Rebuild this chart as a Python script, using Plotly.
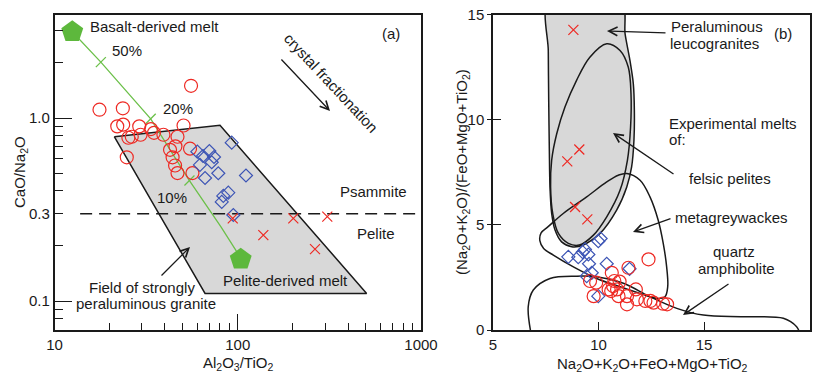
import plotly.graph_objects as go

W, H = 814, 374

# ---------------- Panel (a) data ----------------
a_circ_x = [55.6, 17.6, 23.6, 22.0, 23.7, 29.0, 25.3, 26.4, 29.5, 33.6, 34.9, 39.3, 50.6, 46.9, 45.7, 42.7, 54.9, 44.1, 45.5, 46.9, 24.8, 56.6]
a_circ_y = [1.50, 1.11, 1.13, 0.90, 0.92, 0.90, 0.78, 0.79, 0.81, 0.87, 0.83, 0.81, 0.91, 0.79, 0.70, 0.67, 0.68, 0.61, 0.55, 0.50, 0.61, 0.50]

a_diam_x = [92.7, 60.2, 70.0, 64.6, 72.1, 62.2, 78.3, 66.3, 110.9, 88.8, 83.4, 81.8, 94.6, 74.2]
a_diam_y = [0.733, 0.655, 0.660, 0.620, 0.573, 0.554, 0.499, 0.470, 0.485, 0.391, 0.375, 0.348, 0.295, 0.612]

a_cross_x = [93.9, 201, 308, 137.9, 264]
a_cross_y = [0.283, 0.283, 0.289, 0.229, 0.192]

mix_x = [12.5, 17.9, 33.5, 54.5, 81.0, 99.1, 103.8]
mix_y = [2.96, 2.02, 0.99, 0.455, 0.254, 0.185, 0.169]
mix_tick_x = [17.9, 33.5, 54.5]
mix_tick_y = [2.02, 0.99, 0.455]

end_x = [12.5, 103.8]
end_y = [2.96, 0.169]

field_a_x = [21.2, 80.0, 505, 66.3, 21.2]
field_a_y = [0.79, 0.912, 0.11, 0.11, 0.79]

split_x = [13.8, 1000]
split_y = [0.3, 0.3]

a_xticks = [10, 100, 1000]
a_xminor = [20, 30, 40, 50, 60, 70, 80, 90, 200, 300, 400, 500, 600, 700, 800, 900]
a_yticks = [0.1, 0.3, 1.0]
a_ytext = ["0.1", "0.3", "1.0"]
a_ylong = [0.1, 1.0]
a_yminor = [0.08, 0.09, 0.2, 0.4, 0.5, 0.6, 0.7, 0.8, 0.9, 2, 3]

# ---------------- Panel (b) data ----------------
b_cross_x = [8.81, 9.09, 8.52, 8.89, 9.47]
b_cross_y = [14.27, 8.58, 8.02, 5.85, 5.26]

b_diam_x = [8.57, 9.04, 9.36, 9.52, 9.55, 9.99, 10.1, 10.39, 9.44, 9.68, 9.99, 11.47, 9.25]
b_diam_y = [3.48, 3.46, 3.83, 3.59, 3.15, 4.22, 4.35, 3.15, 2.56, 2.72, 1.61, 2.91, 3.70]

b_circ_x = [12.37, 10.63, 11.42, 10.75, 10.69, 9.60, 9.89, 9.77, 10.48, 10.88, 10.95, 11.77, 11.35, 11.35, 11.82, 12.22, 12.46, 12.61, 13.06, 13.25, 10.60, 11.00]
b_circ_y = [3.36, 2.72, 2.96, 2.33, 2.09, 2.33, 2.25, 1.61, 1.93, 1.93, 1.61, 1.93, 1.61, 1.22, 1.46, 1.38, 1.38, 1.30, 1.25, 1.22, 1.85, 2.30]

leuco_x = [7.62, 11.10, 11.26, 11.49, 11.65, 11.70, 11.68, 11.57, 11.34, 10.86, 10.07, 9.28, 8.73, 8.25, 7.94, 7.78, 7.70, 7.67, 7.64, 7.62, 7.62]
leuco_y = [15.6, 15.6, 14.08, 12.82, 11.71, 10.44, 9.02, 7.75, 6.80, 5.70, 4.59, 4.04, 3.96, 4.19, 4.75, 5.54, 6.80, 8.54, 10.92, 13.29, 15.6]

felsic_x = [10.39, 11.02, 11.41, 11.54, 11.52, 11.37, 11.02, 10.39, 9.76, 9.09, 8.57, 8.10, 7.83, 7.73, 7.78, 8.02, 8.41, 8.96, 9.59, 10.39]
felsic_y = [13.61, 13.29, 12.50, 11.23, 9.65, 8.07, 6.64, 5.38, 4.51, 4.04, 4.12, 4.59, 5.54, 6.80, 8.07, 9.33, 10.60, 11.87, 12.97, 13.61]

greyw_x = [11.34, 11.97, 12.44, 12.83, 13.07, 13.23, 13.28, 13.15, 12.76, 11.97, 11.02, 9.91, 8.81, 7.86, 7.40, 7.22, 7.28, 7.60, 8.33, 9.44, 10.39, 10.94, 11.34]
greyw_y = [7.44, 7.12, 6.33, 5.22, 4.11, 3.00, 2.06, 1.58, 1.50, 1.74, 2.06, 2.45, 3.00, 3.56, 3.88, 4.25, 4.62, 4.90, 5.54, 6.33, 7.04, 7.36, 7.44]

amph_x = [6.79, 6.67, 6.91, 7.70, 8.97, 9.91, 11.18, 12.44, 13.71, 14.97, 16.86, 18.76, 19.39, 19.52]
amph_y = [-0.1, 1.11, 1.90, 2.45, 2.56, 2.53, 2.22, 1.58, 1.03, 0.71, 0.63, 0.56, 0.16, -0.1]

b_xticks = [5, 10, 15, 20]
b_yticks = [0, 5, 10, 15]
b_yinner = [5, 10]

# ---------------- styles ----------------
RED = "#ee2a24"
BLUE = "#3d55b5"
GREEN_L = "#6cc04a"
GREEN_P = "#5db83c"
GRAY = "#d8d8d8"
INK = "#1a1a1a"
FONT = "Liberation Sans, Arial, sans-serif"

fig = go.Figure()

def tr(**kw):
    kw.setdefault("showlegend", False)
    kw.setdefault("hoverinfo", "skip")
    fig.add_trace(go.Scatter(**kw))

# panel (a)
tr(x=field_a_x, y=field_a_y, mode="lines", fill="toself", fillcolor=GRAY,
   line=dict(color=INK, width=1.5), xaxis="x", yaxis="y")
tr(x=split_x, y=split_y, mode="lines", line=dict(color=INK, width=1.5, dash="12px,7px"), xaxis="x", yaxis="y")
tr(x=mix_x, y=mix_y, mode="lines", line=dict(color=GREEN_L, width=1.3), xaxis="x", yaxis="y")
tr(x=mix_tick_x, y=mix_tick_y, mode="markers",
   marker=dict(symbol="line-ne", size=10, line=dict(color=GREEN_L, width=1.3)), xaxis="x", yaxis="y")
tr(x=a_circ_x, y=a_circ_y, mode="markers",
   marker=dict(symbol="circle-open", size=13, color=RED, line=dict(width=1.2)), xaxis="x", yaxis="y")
tr(x=a_diam_x, y=a_diam_y, mode="markers",
   marker=dict(symbol="diamond-open", size=10, color=BLUE, line=dict(width=1.2)), xaxis="x", yaxis="y")
tr(x=a_cross_x, y=a_cross_y, mode="markers",
   marker=dict(symbol="x-thin-open", size=10, color=RED, line=dict(width=1.2, color=RED)), xaxis="x", yaxis="y")
tr(x=end_x, y=end_y, mode="markers",
   marker=dict(symbol="pentagon", size=23, color=GREEN_P, line=dict(width=0)), xaxis="x", yaxis="y")
# overlay axis carrying the long y ticks
tr(x=end_x, y=end_y, mode="markers", marker=dict(opacity=0), xaxis="x", yaxis="y4")

# panel (b)
tr(x=leuco_x, y=leuco_y, mode="lines", fill="toself", fillcolor=GRAY,
   line=dict(color=INK, width=1.5, shape="spline", smoothing=0.8), xaxis="x2", yaxis="y2")
tr(x=felsic_x, y=felsic_y, mode="lines",
   line=dict(color=INK, width=1.5, shape="spline", smoothing=1.0), xaxis="x2", yaxis="y2")
tr(x=greyw_x, y=greyw_y, mode="lines",
   line=dict(color=INK, width=1.5, shape="spline", smoothing=1.0), xaxis="x2", yaxis="y2")
tr(x=amph_x, y=amph_y, mode="lines",
   line=dict(color=INK, width=1.5, shape="spline", smoothing=1.0), xaxis="x2", yaxis="y2")
tr(x=b_cross_x, y=b_cross_y, mode="markers",
   marker=dict(symbol="x-thin-open", size=10, color=RED, line=dict(width=1.2, color=RED)), xaxis="x2", yaxis="y2")
tr(x=b_diam_x, y=b_diam_y, mode="markers",
   marker=dict(symbol="diamond-open", size=10, color=BLUE, line=dict(width=1.2)), xaxis="x2", yaxis="y2")
tr(x=b_circ_x, y=b_circ_y, mode="markers",
   marker=dict(symbol="circle-open", size=13, color=RED, line=dict(width=1.2)), xaxis="x2", yaxis="y2")
tr(x=b_circ_x, y=b_circ_y, mode="markers", marker=dict(opacity=0), xaxis="x2", yaxis="y3")

YDOM = [1 - 330 / H, 1 - 14.5 / H]
tickfont = dict(family=FONT, size=15, color=INK)
common = dict(showline=True, linecolor=INK, linewidth=1.5, mirror=True, showgrid=False,
              zeroline=False, tickcolor=INK, tickwidth=1.3, tickfont=tickfont, automargin=False)
overlay = dict(showticklabels=False, showline=False, showgrid=False, zeroline=False,
               tickcolor=INK, tickwidth=1.3, automargin=False)

fig.update_layout(
    template="none",
    width=W, height=H, margin=dict(l=0, r=0, t=0, b=0, autoexpand=False),
    paper_bgcolor="white", plot_bgcolor="white", showlegend=False,
    font=dict(family=FONT, size=15, color=INK),
    xaxis=dict(type="log", range=[1, 3], domain=[54.5 / W, 421 / W], anchor="y",
               ticks="inside", ticklen=16, tickmode="array", tickvals=a_xticks,
               ticktext=[str(v) for v in a_xticks],
               minor=dict(tickmode="array", tickvals=a_xminor, ticks="inside", ticklen=7,
                          tickcolor=INK, tickwidth=1.3, showgrid=False), **common),
    yaxis=dict(type="log", range=[-1.1585, 0.5656], domain=YDOM, anchor="x",
               ticks="inside", ticklen=9, tickmode="array", tickvals=a_yticks, ticktext=a_ytext,
               minor=dict(tickmode="array", tickvals=a_yminor, ticks="inside", ticklen=9,
                          tickcolor=INK, tickwidth=1.3, showgrid=False), **common),
    yaxis4=dict(type="log", range=[-1.1585, 0.5656], overlaying="y", anchor="x", side="left",
                ticks="inside", ticklen=17, tickmode="array", tickvals=a_ylong, **overlay),
    xaxis2=dict(range=[5, 20], domain=[493 / W, 809.5 / W], anchor="y2",
                ticks="inside", ticklen=8, tickmode="array", tickvals=b_xticks, **common),
    yaxis2=dict(range=[0, 15], domain=YDOM, anchor="x2",
                ticks="outside", ticklen=4, tickmode="array", tickvals=b_yticks, **common),
    yaxis3=dict(range=[0, 15], overlaying="y2", anchor="x2", side="left",
                ticks="inside", ticklen=8, tickmode="array", tickvals=b_yinner, **overlay),
)

def P(px, py):
    return px / W, 1 - py / H

def text(px, py, s, anchor="center", angle=0, size=15):
    x, y = P(px, py)
    fig.add_annotation(x=x, y=y, xref="paper", yref="paper", text=s, showarrow=False,
                       xanchor=anchor, yanchor="middle", textangle=angle,
                       font=dict(family=FONT, size=size, color=INK))

def arrow(tail, head):
    x, y = P(*head)
    fig.add_annotation(x=x, y=y, xref="paper", yref="paper", text="", showarrow=True,
                       ax=tail[0] - head[0], ay=tail[1] - head[1], axref="pixel", ayref="pixel",
                       arrowhead=5, arrowsize=1.3, arrowwidth=1.3, arrowcolor=INK, standoff=0)

# axis titles
text(238, 363, "Al<sub>2</sub>O<sub>3</sub>/TiO<sub>2</sub>")
text(20, 172, "CaO/Na<sub>2</sub>O", angle=-90)
text(652, 364, "Na<sub>2</sub>O+K<sub>2</sub>O+FeO+MgO+TiO<sub>2</sub>")
text(462, 172, "(Na<sub>2</sub>O+K<sub>2</sub>O)/(FeO+MgO+TiO<sub>2</sub>)", angle=-90)

# panel (a) labels
text(88, 27, "Basalt-derived melt", anchor="left")
text(127, 51, "50%")
text(178, 108, "20%")
text(172, 197, "10%")
text(331, 82, "crystal fractionation", angle=47)
arrow((280, 58), (330, 111))
text(391, 33, "(a)")
text(373, 191, "Psammite")
text(376, 233, "Pelite")
text(285, 280, "Pelite-derived melt")
text(142, 287, "Field of strongly")
text(146, 303, "peraluminous granite")
arrow((160, 277), (190, 247))

# panel (b) labels
text(669, 26, "Peraluminous", anchor="left")
text(668, 43, "leucogranites", anchor="left")
arrow((667, 33), (607, 31))
text(783, 33, "(b)")
text(667, 123, "Experimental melts", anchor="left")
text(667, 140, "of:", anchor="left")
arrow((675, 175), (613, 133))
text(687, 178, "felsic pelites", anchor="left")
text(673, 217, "metagreywackes", anchor="left")
arrow((672, 218), (633, 232))
text(734, 251, "quartz")
text(736, 268, "amphibolite")
arrow((730, 283), (683, 315))

fig.write_html(
    "out.html",
    config={"displayModeBar": False},
    post_script=(
        "document.documentElement.style.margin='0';document.documentElement.style.padding='0';"
        "document.documentElement.style.overflow='hidden';"
        "document.body.style.margin='0';document.body.style.padding='0';"
        "document.body.style.overflow='hidden';"
    ),
)
